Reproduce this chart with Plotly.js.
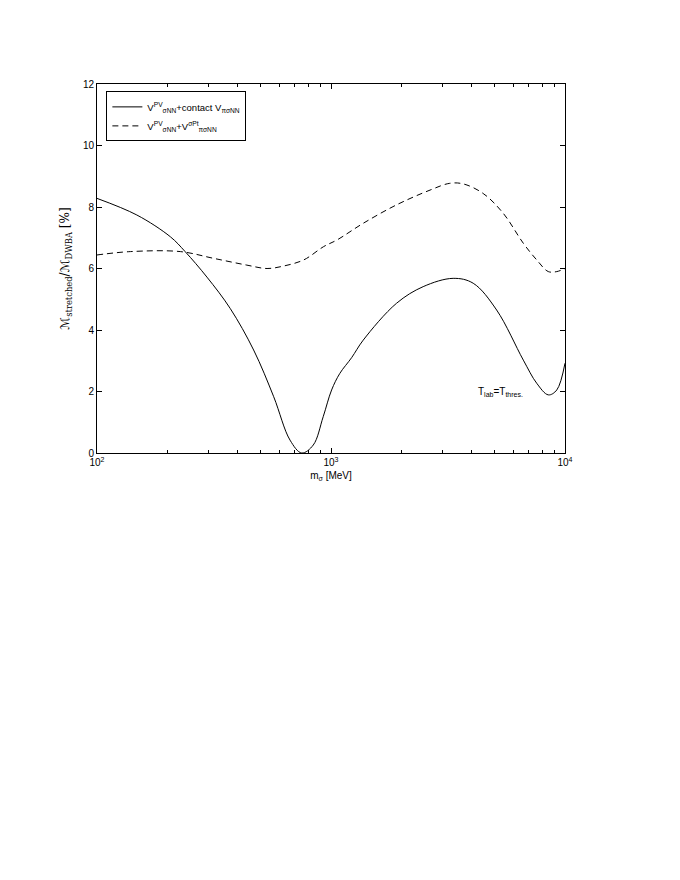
<!DOCTYPE html>
<html><head><meta charset="utf-8">
<script src="https://cdn.plot.ly/plotly-3.0.1.min.js"></script>
<style>html,body{margin:0;padding:0;background:#fff;}#plot{width:680px;height:880px;}</style>
</head><body><div id="plot"></div>
<script>
const solidX = [100, 148, 206, 238, 295, 371, 467, 569, 668, 750, 840, 926, 1006, 1091, 1225, 1373, 1906, 2477, 3327, 4053, 5103, 6637, 7568, 8486, 9224, 10000];
const solidY = [8.28, 7.74, 7.03, 6.55, 5.72, 4.70, 3.35, 1.83, 0.42, 0.0, 0.26, 1.18, 2.05, 2.59, 3.10, 3.67, 4.87, 5.41, 5.68, 5.52, 4.65, 3.02, 2.27, 1.89, 2.05, 2.92];
const dashX = [100, 139, 227, 315, 437, 533, 627, 765, 929, 1062, 1373, 1906, 2650, 3217, 3680, 4470, 5440, 6637, 7568, 8486, 9224, 10000];
const dashY = [6.44, 6.55, 6.55, 6.33, 6.11, 6.0, 6.08, 6.28, 6.71, 6.93, 7.47, 8.07, 8.55, 8.77, 8.75, 8.44, 7.80, 6.82, 6.28, 5.90, 5.90, 6.0];
const xTickVals = [100, 1000, 10000];
const xTickText = ['10<sup>2</sup>', '10<sup>3</sup>', '10<sup>4</sup>'];
const xMinor = [200,300,400,500,600,700,800,900,2000,3000,4000,5000,6000,7000,8000,9000];
const yTickVals = [0, 2, 4, 6, 8, 10, 12];
const name1 = 'V<sup>PV</sup><sub>σNN</sub>+contact V<sub>πσNN</sub>';
const name2 = 'V<sup>PV</sup><sub>σNN</sub>+V<sup>σPt</sup><sub>πσNN</sub>';
const annText = 'T<sub>lab</sub>=T<sub>thres.</sub>';
const yTitle = '<span style="font-family:DejaVu Sans">ℳ</span><sub>stretched</sub>/<span style="font-family:DejaVu Sans">ℳ</span><sub>DWBA</sub> [%]';

const font = {family: 'Liberation Sans, Arial, sans-serif', size: 10, color: '#000'};
const traces = [
  {x: solidX, y: solidY, mode: 'lines', name: name1, line: {color: '#000', width: 1, shape: 'spline', smoothing: 1}},
  {x: dashX, y: dashY, mode: 'lines', name: name2, line: {color: '#000', width: 1, dash: '6px,4px', shape: 'spline', smoothing: 1}}
];
const axisCommon = {showline: true, linecolor: '#000', linewidth: 1, mirror: 'ticks', ticks: 'inside', ticklen: 5, tickcolor: '#000', showgrid: false, zeroline: false, tickfont: font};
const layout = {
  width: 680, height: 880,
  margin: {l: 97, r: 115, t: 84, b: 427},
  paper_bgcolor: '#fff', plot_bgcolor: '#fff',
  font: font,
  showlegend: true,
  legend: {x: 0.02, y: 0.98, xanchor: 'left', yanchor: 'top', bordercolor: '#000', borderwidth: 1, bgcolor: '#fff', font: {family: font.family, size: 9.5, color: '#000'}, tracegroupgap: 4},
  xaxis: Object.assign({}, axisCommon, {
    type: 'log', range: [2, 4], tickmode: 'array', tickvals: xTickVals, ticktext: xTickText,
    minor: {tickmode: 'array', tickvals: xMinor, ticks: 'inside', ticklen: 3, tickcolor: '#000'},
    title: {text: 'm<sub>σ</sub> [MeV]', font: font, standoff: 4}
  }),
  yaxis: Object.assign({}, axisCommon, {
    range: [0, 12], tickmode: 'array', tickvals: yTickVals,
    title: {text: yTitle, font: {family: 'DejaVu Serif, serif', size: 12, color: '#000'}, standoff: 10}
  }),
  annotations: [{x: Math.log10(5275), y: 1.98, xref: 'x', yref: 'y', text: annText, showarrow: false, font: {family: font.family, size: 10, color: '#000'}}]
};
Plotly.newPlot('plot', traces, layout, {displayModeBar: false, staticPlot: true});
</script></body></html>
